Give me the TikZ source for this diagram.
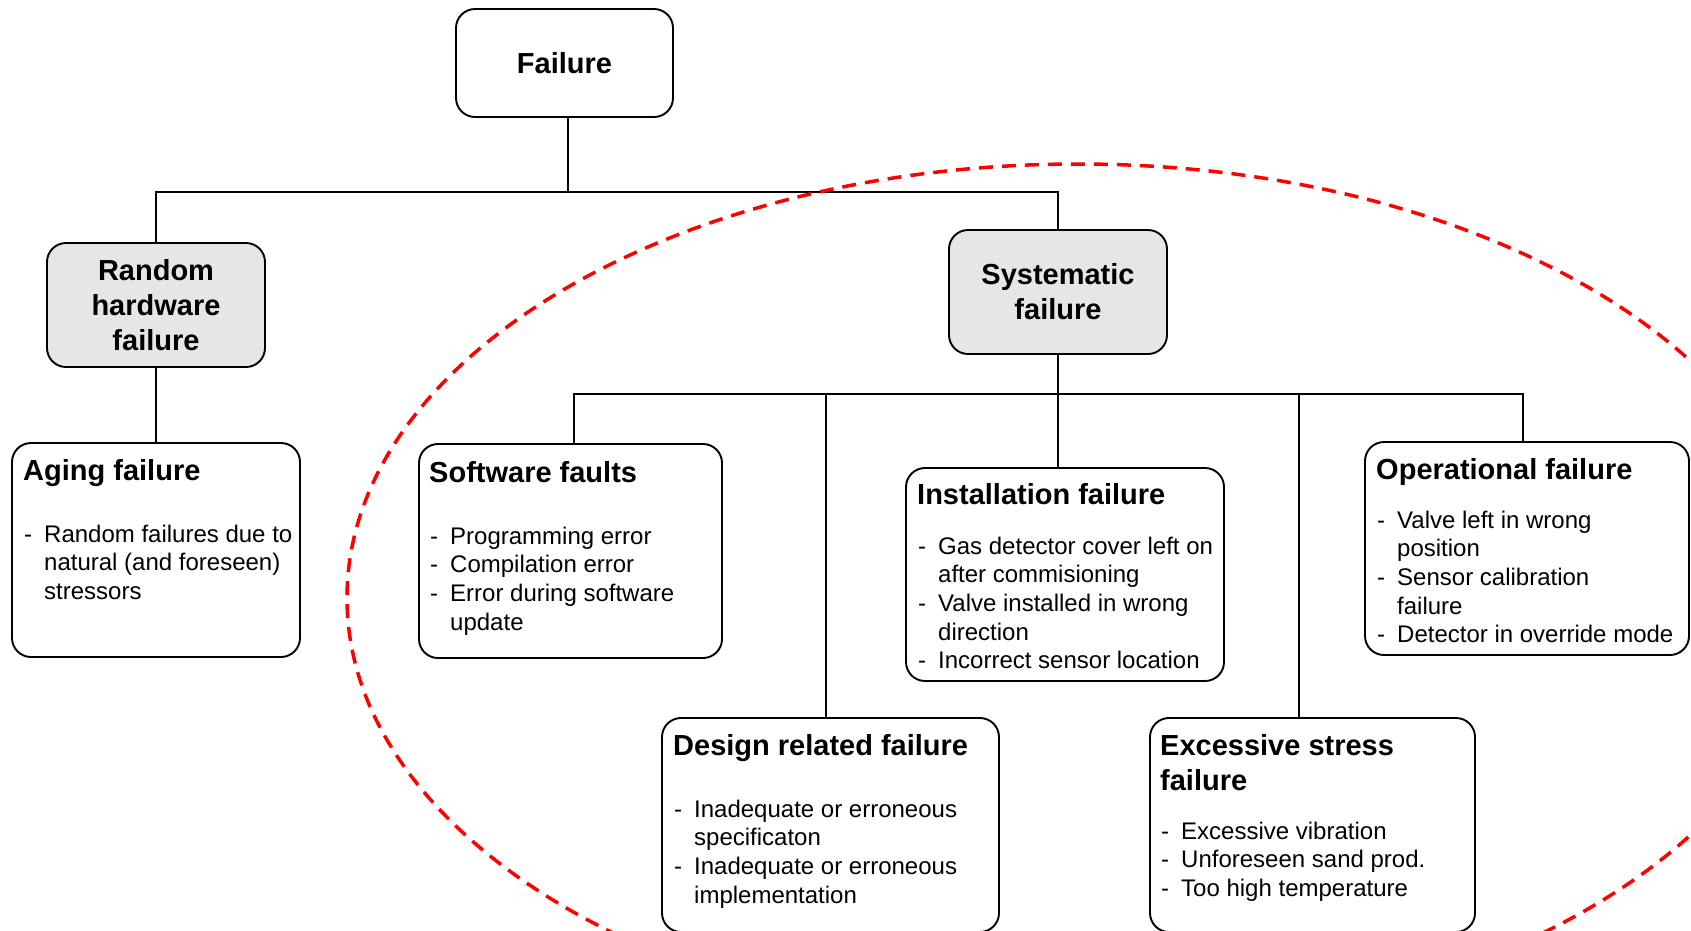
\documentclass[tikz,border=0pt]{standalone}
\usepackage{fontspec}
\setmainfont{Liberation Sans}
\usetikzlibrary{calc}
\definecolor{boxgray}{HTML}{E6E6E6}
\newcommand\hb{\makebox[20pt][l]{-}}
\newcommand\hi{\hspace*{20pt}}
\newcommand\blist[1]{\begin{tabular}[t]{@{}l@{}}#1\end{tabular}}
\begin{document}
\begin{tikzpicture}[x=1pt,y=-1pt,
  box/.style={draw=black, line width=1.9pt, rounded corners=19pt, inner sep=0pt, fill=white},
  graybox/.style={box, fill=boxgray},
  ttl/.style={font=\fontsize{29}{35}\selectfont\bfseries, inner sep=0pt, anchor=base west},
  ctr/.style={font=\fontsize{29}{35}\selectfont\bfseries, inner sep=0pt, align=center},
  bodytxt/.style={font=\fontsize{24}{28.7}\selectfont, inner sep=0pt, anchor=base west},
  conn/.style={line width=1.8pt},
  ring/.style={draw=red, line width=3.5pt, dash pattern=on 14pt off 9pt}]
\useasboundingbox (0,0) rectangle (1691,930);
\clip (0,0) rectangle (1691,930);

% boxes
\node[box, minimum width=217pt, minimum height=108pt] (failure) at (564.5,63) {};
\node[graybox, minimum width=218pt, minimum height=124pt] (random) at (156,305) {};
\node[graybox, minimum width=218pt, minimum height=124pt] (systematic) at (1058,292) {};
\node[box, minimum width=288pt, minimum height=214pt] (aging) at (156,550) {};
\node[box, minimum width=303pt, minimum height=214pt] (software) at (570.5,551) {};
\node[box, minimum width=318pt, minimum height=213pt] (installation) at (1065,574.5) {};
\node[box, minimum width=324pt, minimum height=213pt] (operational) at (1527,548.5) {};
\node[box, minimum width=337pt, minimum height=214pt] (design) at (830.5,825) {};
\node[box, minimum width=325pt, minimum height=214pt] (excessive) at (1312.5,825) {};

% texts
\node[ctr] (failuret) at (failure.center) {Failure};
\node[ctr] (randomt) at (random.center) {Random\\hardware\\failure};
\node[ctr] (systematict) at (systematic.center) {Systematic\\failure};

\node[ttl] (agingt) at (23,480) {Aging failure};
\node[bodytxt] (agingb) at (24,542) {\blist{\hb Random failures due to\\\hi natural (and foreseen)\\\hi stressors}};

\node[ttl] (softwaret) at (429,482) {Software faults};
\node[bodytxt] (softwareb) at (430,544) {\blist{\hb Programming error\\\hb Compilation error\\\hb Error during software\\\hi update}};

\node[ttl] (installationt) at (917,504) {Installation failure};
\node[bodytxt] (installationb) at (918,554) {\blist{\hb Gas detector cover left on\\\hi after commisioning\\\hb Valve installed in wrong\\\hi direction\\\hb Incorrect sensor location}};

\node[ttl] (operationalt) at (1376,479) {Operational failure};
\node[bodytxt] (operationalb) at (1377,528) {\blist{\hb Valve left in wrong\\\hi position\\\hb Sensor calibration\\\hi failure\\\hb Detector in override mode}};

\node[ttl] (designt) at (673,755) {Design related failure};
\node[bodytxt] (designb) at (674,817) {\blist{\hb Inadequate or erroneous\\\hi specificaton\\\hb Inadequate or erroneous\\\hi implementation}};

\node[ttl] (excessivet) at (1160,755) {\blist{Excessive stress\\failure}};
\node[bodytxt] (excessiveb) at (1161,839) {\blist{\hb Excessive vibration\\\hb Unforeseen sand prod.\\\hb Too high temperature}};

% connectors
\coordinate (bus1) at (568,192);
\coordinate (b2l) at (574,394);
\coordinate (b2r) at (1523,394);
\coordinate (jd) at (826,394);
\coordinate (je) at (1299,394);

\draw[conn] (bus1 |- failure.south) -- (bus1);
\draw[conn] (random.north) -- (random.north |- bus1) -- (systematic.north |- bus1) -- (systematic.north);
\draw[conn] (random.south) -- (aging.north);
\draw[conn] (systematic.south) -- (systematic.south |- installation.north);
\draw[conn] (b2l |- software.north) -- (b2l) -- (b2r) -- (b2r |- operational.north);
\draw[conn] (jd) -- (jd |- design.north);
\draw[conn] (je) -- (je |- excessive.north);

% red dashed ellipse
\draw[ring] (1078,598) ellipse [x radius=731, y radius=434];
\end{tikzpicture}
\end{document}
